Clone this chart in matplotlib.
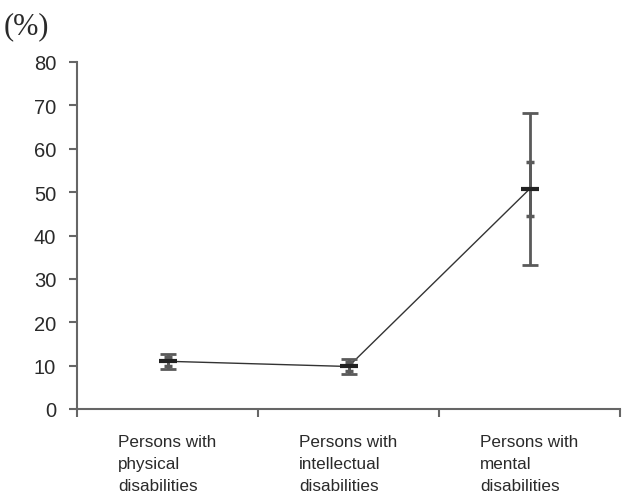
import matplotlib
matplotlib.use("Agg")
import matplotlib.pyplot as plt
import numpy as np

# Data
categories = [
    "Persons with\nphysical\ndisabilities",
    "Persons with\nintellectual\ndisabilities",
    "Persons with\nmental\ndisabilities",
]
means = [11.0, 9.8, 50.7]
outer_err = [1.7, 1.8, 17.6]   # wide bars
inner_err = [1.0, 1.0, 6.3]    # short inner caps
y_ticks = [0, 10, 20, 30, 40, 50, 60, 70, 80]

plt.rcParams["font.family"] = ["Liberation Sans", "DejaVu Sans"]

fig = plt.figure(figsize=(6.32, 5.02), dpi=100)
ax = fig.add_axes([77 / 632, 92 / 502, 543 / 632, 347 / 502])

x = np.arange(len(categories))
axis_col = "#666666"
text_col = "#2a2a2a"

# connecting line
ax.plot(x, means, color="#333333", linewidth=1.0, zorder=2)

# outer error bars
ax.errorbar(x, means, yerr=outer_err, fmt="none", ecolor="#5a5a5a",
            elinewidth=2.0, capsize=6, capthick=2.0, zorder=3)
# inner caps
ax.errorbar(x, means, yerr=inner_err, fmt="none", ecolor="#5a5a5a",
            elinewidth=2.0, capsize=3, capthick=2.5, zorder=3)
# mean markers
ax.plot(x, means, linestyle="none", marker="_", markersize=13,
        markeredgewidth=3, color="#222222", zorder=4)

ax.set_xlim(-0.5, 2.5)
ax.set_ylim(0, 80)
ax.set_yticks(y_ticks)
ax.set_yticklabels([str(v) for v in y_ticks], fontsize=14.5, color=text_col)

ax.set_xticks(x)
ax.set_xticklabels(categories, fontsize=12.3, color=text_col,
                   multialignment="left", va="top", linespacing=1.58)
ax.tick_params(axis="x", which="major", length=0, pad=18)
ax.set_xticks([-0.5, 0.5, 1.5, 2.5], minor=True)
ax.tick_params(axis="x", which="minor", length=6, width=1.5,
               color=axis_col, direction="out")
ax.tick_params(axis="y", length=6, width=1.5, color=axis_col,
               direction="out", pad=9)

for side in ["top", "right"]:
    ax.spines[side].set_visible(False)
for side in ["left", "bottom"]:
    ax.spines[side].set_color(axis_col)
    ax.spines[side].set_linewidth(1.5)

fig.text(4 / 632, 1 - 34 / 502, "(%)", fontsize=22,
         family=["Liberation Serif", "DejaVu Serif"], color=text_col)

fig.savefig("out.png", dpi=100)
